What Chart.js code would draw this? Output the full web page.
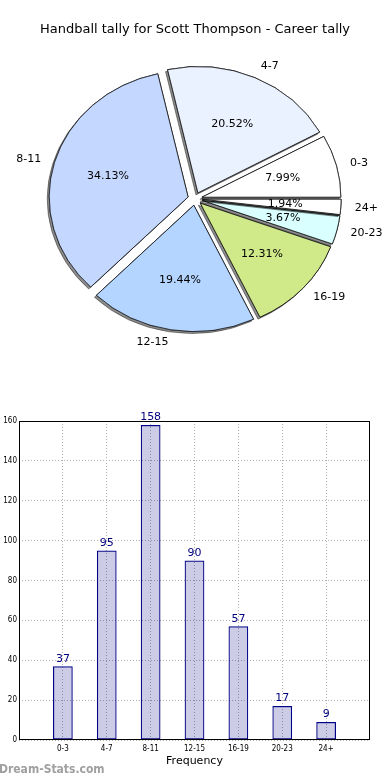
<!DOCTYPE html>
<html>
<head>
<meta charset="utf-8">
<script src="https://cdn.jsdelivr.net/npm/chart.js@4/dist/chart.umd.min.js"></script>
<style>
  html, body { margin: 0; padding: 0; background: #fff; }
  #page { position: relative; width: 390px; height: 780px; overflow: hidden; }
  #pieBox { position: absolute; left: 0; top: 0; width: 390px; height: 380px; }
  #barBox { position: absolute; left: 0; top: 400px; width: 390px; height: 380px; }
  #mark { position: absolute; left: -1px; top: 762px; font: bold 12px 'DejaVu Sans Condensed', 'DejaVu Sans', sans-serif; color: #a0a0a0; }
</style>
</head>
<body>
<div id="page">
  <div id="pieBox"><canvas id="pie"></canvas></div>
  <div id="barBox"><canvas id="bar"></canvas></div>
  <div id="mark">Dream-Stats.com</div>
</div>
<script>
const categories = ['0-3', '4-7', '8-11', '12-15', '16-19', '20-23', '24+'];
const counts = [37, 95, 158, 90, 57, 17, 9];
const sliceColors = ['#ffffff', '#eaf1ff', '#c4d8ff', '#b3d5ff', '#d0ea8a', '#d9ffff', '#ffffff'];
const yTicks = [0, 20, 40, 60, 80, 100, 120, 140, 160];

const FONT = "'DejaVu Sans', sans-serif";
const SMALL = "'DejaVu Sans Condensed', 'DejaVu Sans', sans-serif";
const SX = 1.1;       // pie is stretched sideways like the original
const EXPLODE = 6.5;  // px each slice is pulled out

Chart.defaults.animation = false;
Chart.defaults.events = [];

// matplotlib goes counter-clockwise from 3 o'clock, chart.js clockwise -> reverse
const pieLabels = categories.slice().reverse();
const pieValues = counts.slice().reverse();
const pieColors = sliceColors.slice().reverse();
const total = counts.reduce((a, b) => a + b, 0);

function pieCenter(chart) {
  const a = chart.chartArea;
  return { x: (a.left + a.right) / 2, y: (a.top + a.bottom) / 2 };
}

// draw the slices ourselves: stretched, exploded, with a drop shadow,
// in the original (counter-clockwise) order
const explodePlugin = {
  id: 'explode',
  beforeDatasetsDraw(chart) {
    const ctx = chart.ctx, c = pieCenter(chart);
    const arcs = chart.getDatasetMeta(0).data;
    for (let i = arcs.length - 1; i >= 0; i--) {
      const arc = arcs[i];
      const mid = (arc.startAngle + arc.endAngle) / 2;
      ctx.save();
      ctx.translate(c.x, c.y);
      ctx.scale(SX, 1);
      ctx.translate(-c.x, -c.y);
      ctx.translate(Math.cos(mid) * EXPLODE, Math.sin(mid) * EXPLODE);
      ctx.save();
      ctx.shadowColor = 'rgba(0,0,0,0.45)';
      ctx.shadowOffsetX = -2;
      ctx.shadowOffsetY = 2;
      ctx.shadowBlur = 0;
      arc.draw(ctx);
      ctx.restore();
      arc.draw(ctx);
      ctx.restore();
    }
    return false;
  }
};

const pieTextPlugin = {
  id: 'pieText',
  afterDraw(chart) {
    const ctx = chart.ctx, c = pieCenter(chart);
    const meta = chart.getDatasetMeta(0);
    ctx.save();
    ctx.font = '11px ' + FONT;
    ctx.fillStyle = '#000';
    meta.data.forEach((arc, i) => {
      const mid = (arc.startAngle + arc.endAngle) / 2;
      const at = k => {
        const d = arc.outerRadius * k + EXPLODE;
        return { x: c.x + (arc.x + Math.cos(mid) * d - c.x) * SX, y: arc.y + Math.sin(mid) * d };
      };
      const pct = at(0.6);
      ctx.textAlign = 'center';
      ctx.textBaseline = 'middle';
      ctx.fillText((pieValues[i] / total * 100).toFixed(2) + '%', pct.x, pct.y);
      const lab = at(1.1);
      ctx.textAlign = Math.cos(mid) > 0 ? 'left' : 'right';
      ctx.fillText(pieLabels[i], lab.x, lab.y);
    });
    ctx.restore();
  }
};

new Chart(document.getElementById('pie'), {
  type: 'pie',
  data: {
    labels: pieLabels,
    datasets: [{
      data: pieValues,
      backgroundColor: pieColors,
      borderColor: '#1a1a1a',
      borderWidth: 0.8
    }]
  },
  options: {
    responsive: true,
    maintainAspectRatio: false,
    rotation: 90,
    layout: { padding: { top: 0, bottom: 54.5, left: 20, right: 20 } },
    plugins: {
      legend: { display: false },
      tooltip: { enabled: false },
      title: {
        display: true,
        text: 'Handball tally for Scott Thompson - Career tally',
        color: '#000',
        font: { family: FONT, size: 13, weight: 'normal' },
        padding: { top: 22, bottom: 34.5 }
      }
    }
  },
  plugins: [explodePlugin, pieTextPlugin]
});

// bar chart -----------------------------------------------------------

const framePlugin = {
  id: 'frame',
  afterDatasetsDraw(chart) {
    const { ctx, chartArea: a } = chart;
    ctx.save();
    // value labels above the bars
    ctx.font = '11px ' + FONT;
    ctx.fillStyle = '#000080';
    ctx.textAlign = 'center';
    ctx.textBaseline = 'bottom';
    chart.getDatasetMeta(0).data.forEach((bar, i) => {
      ctx.fillText(String(counts[i]), bar.x, bar.y - 2);
    });
    ctx.strokeStyle = '#000';
    ctx.lineWidth = 1;
    ctx.strokeRect(Math.round(a.left) + 0.5, Math.round(a.top) + 0.5,
      Math.round(a.right - a.left) - 1, Math.round(a.bottom - a.top) - 1);
    ctx.restore();
  }
};

const gridStyle = {
  color: '#b0b0b0',
  lineWidth: 1,
  drawTicks: false,
  offset: false
};

new Chart(document.getElementById('bar'), {
  type: 'bar',
  data: {
    datasets: [{
      data: counts.map((v, i) => ({ x: i + 1, y: v })),
      backgroundColor: 'rgba(0,0,128,0.2)',
      borderColor: '#000088',
      borderWidth: 1.2,
      borderSkipped: false,
      categoryPercentage: 1,
      barPercentage: 0.45
    }]
  },
  options: {
    responsive: true,
    maintainAspectRatio: false,
    layout: { padding: { top: 21, right: 20, left: 0, bottom: 0 } },
    plugins: { legend: { display: false }, tooltip: { enabled: false } },
    scales: {
      x: {
        type: 'linear',
        offset: false,
        min: 0,
        max: categories.length + 1,
        afterFit: s => { s.height = 40; },
        afterBuildTicks: s => {
          s.ticks = categories.map((_, i) => ({ value: i + 1 }));
        },
        grid: gridStyle,
        border: { display: false, dash: [1, 2] },
        ticks: {
          padding: 4,
          color: '#000',
          font: { family: SMALL, size: 8 },
          callback: v => categories[v - 1] || ''
        },
        title: {
          display: true,
          text: 'Frequency',
          color: '#000',
          font: { family: FONT, size: 11 },
          padding: { top: 0, bottom: 12 }
        }
      },
      y: {
        min: 0,
        max: 160,
        afterFit: s => { s.width = 19; },
        afterBuildTicks: s => {
          s.ticks = yTicks.map(v => ({ value: v }));
        },
        grid: gridStyle,
        border: { display: false, dash: [1, 2] },
        ticks: {
          padding: 2,
          color: '#000',
          font: { family: SMALL, size: 8 }
        }
      }
    }
  },
  plugins: [framePlugin]
});
</script>
</body>
</html>
